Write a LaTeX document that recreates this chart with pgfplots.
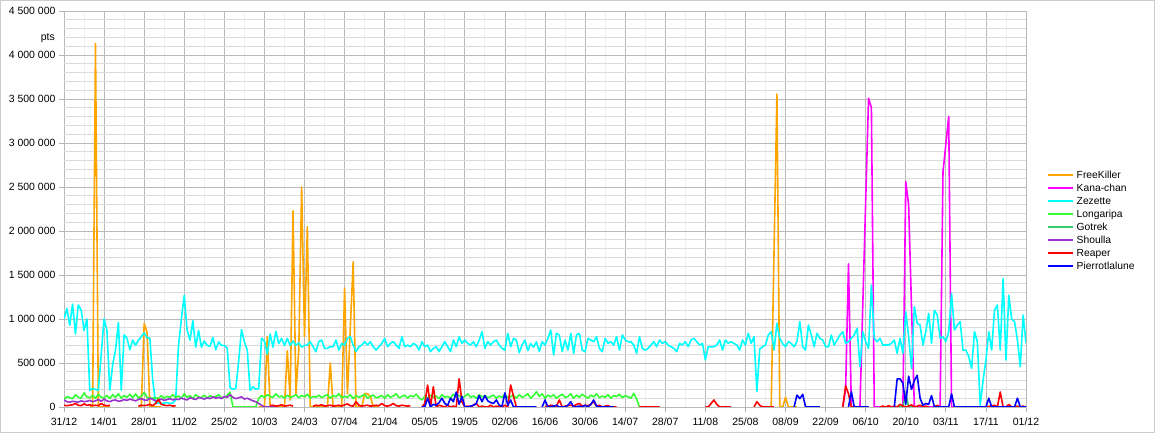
\documentclass[border=0pt]{standalone}
\usepackage{fontspec}
\setmainfont{Liberation Sans}
\usepackage{pgfplots}
\pgfplotsset{compat=1.18}
\definecolor{cFK}{HTML}{FFA500}
\definecolor{cKC}{HTML}{FF00FF}
\definecolor{cZZ}{HTML}{00FFFF}
\definecolor{cLG}{HTML}{33FF33}
\definecolor{cGT}{HTML}{33CC66}
\definecolor{cSH}{HTML}{9933CC}
\definecolor{cRP}{HTML}{FF0000}
\definecolor{cPL}{HTML}{0000FF}
\begin{document}
\begin{tikzpicture}[x=1pt,y=1pt]
\useasboundingbox (0,0) rectangle (1155,433);
\draw[gray!40, line width=1pt] (0.5,0.5) rectangle (1154.5,432.5);
\begin{axis}[
  at={(64pt,26pt)}, anchor=south west,
  scale only axis, width=962pt, height=396pt,
  xmin=0, xmax=336, ymin=0, ymax=4500,
  xtick={0,14,...,336},
  xticklabels={31/12,14/01,28/01,11/02,25/02,10/03,24/03,07/04,21/04,05/05,19/05,02/06,16/06,30/06,14/07,28/07,11/08,25/08,08/09,22/09,06/10,20/10,03/11,17/11,01/12},
  minor x tick num=1,
  ytick={0,500,...,4500},
  yticklabels={0,500 000,1 000 000,1 500 000,2 000 000,2 500 000,3 000 000,3 500 000,4 000 000,4 500 000},
  minor y tick num=4,
  grid=both,
  major grid style={gray!55, line width=0.8pt},
  minor grid style={gray!28, line width=0.8pt},
  every minor x grid/.style={gray!12, line width=0.8pt},
  axis line style={draw=none},
  tick align=outside, xtick pos=left, ytick pos=left,
  major tick length=5pt, minor tick length=0pt,
  tick style={gray!60, line width=0.8pt},
  tick label style={font=\fontsize{10.5}{12}\selectfont, text=black},
  xticklabel style={yshift=-2pt},
  unbounded coords=jump,
  every axis plot/.append style={line width=1.6pt, line join=round, mark=none},
  legend style={at={(1,0.602)}, anchor=north west, xshift=21.5pt, draw=none, fill=none,
    inner sep=0pt, row sep=0pt, column sep=2pt,
    font=\fontsize{10.3}{12}\selectfont,
    cells={anchor=west, inner sep=1.5pt, text height=7.5pt, text depth=2.5pt}},
  legend cell align=left,
  legend image code/.code={\fill[#1, draw=none] (0pt,-1pt) rectangle (25pt,1pt);},
]
% FreeKiller
\addplot[color=cFK] coordinates {
(9,0)(10,0)(11,4130)(12,0)(13,0)(14,0)(15,0)(16,0)(17,nan)
(26,0)(27,0)(28,950)(29,850)(30,0)(31,0)(32,0)(33,0)(34,0)(35,nan)
(68,0)(69,0)(70,0)(71,800)(72,0)(73,0)(74,0)(75,0)(76,0)(77,0)(78,640)(79,80)(80,2230)(81,150)(82,650)(83,2500)(84,800)(85,2050)(86,0)(87,0)(88,0)(89,0)(90,0)(91,0)(92,0)(93,500)(94,0)(95,0)(96,0)(97,0)(98,1350)(99,150)(101,1650)(102,0)(103,0)(104,0)(105,150)(106,150)(107,120)(108,0)(109,0)(110,0)(111,nan)
(247,0)(249,3557)(250,0)(251,0)(252,110)(253,0)(254,0)(255,0)(256,0)
};
\addlegendentry{FreeKiller}
% Kana-chan
\addplot[color=cKC] coordinates {
(272,0)(273,200)(274,1625)(275,0)(278,0)(281,3510)(282,3400)(283,0)(293,0)(294,2560)(295,2300)(297,0)(306,0)(307,2670)(309,3300)(310,0)(322,0)
};
\addlegendentry{Kana-chan}
% Zezette
\addplot[color=cZZ] coordinates {
(0,1000)(1,1120)(2,930)(3,1170)(4,830)(5,1160)(6,1100)(7,870)(8,1000)(9,190)
(10,210)(11,200)(12,190)(13,600)(14,1000)(15,870)(16,190)(17,480)(18,650)(19,960)
(20,190)(21,820)(22,780)(23,650)(24,760)(25,700)(26,760)(27,800)(28,840)(29,790)
(30,780)(31,300)(32,45)(33,45)(34,40)(35,45)(36,50)(37,40)(38,45)(39,80)
(40,700)(41,1000)(42,1270)(43,870)(44,760)(45,980)(46,680)(47,870)(48,680)(49,750)
(50,700)(51,690)(52,790)(53,650)(54,740)(55,700)(56,700)(57,670)(58,220)(59,200)
(60,210)(61,520)(62,880)(63,740)(64,650)(65,190)(66,230)(67,200)(68,210)(69,780)
(70,750)(71,600)(72,830)(73,680)(74,860)(75,720)(76,780)(77,700)(78,780)(79,700)
(80,750)(81,700)(82,730)(83,680)(84,700)
(85,704)(86,742)(87,685)(88,629)(89,742)(90,761)(91,666)(92,666)(93,685)(94,685)
(95,761)(96,647)(97,723)(98,704)(99,780)(100,799)(101,704)(102,629)(103,685)(104,704)
(105,742)(106,704)(107,742)(108,685)(109,647)(110,685)(111,723)(112,780)(113,685)(114,723)
(115,742)(116,704)(117,666)(118,799)(119,685)(120,704)(121,685)(122,723)(123,704)(124,647)
(125,742)(126,685)(127,704)(128,629)(129,666)(130,685)(131,629)(132,685)(133,742)(134,685)
(135,629)(136,761)(137,685)(138,799)(139,723)(140,761)(141,723)(142,704)(143,742)(144,685)
(145,761)(146,856)(147,666)(148,742)(149,704)(150,742)(151,761)(152,704)(153,666)(154,647)
(155,837)(156,685)(157,780)(158,760)(159,617)(160,704)(161,760)(162,640)(163,720)(164,680)
(165,740)(166,629)(167,742)(168,704)(169,780)(170,875)(171,591)(172,837)(173,818)(174,629)
(175,761)(176,647)(177,837)(178,610)(179,818)(180,837)(181,647)(182,629)(183,780)(184,761)
(185,742)(186,799)(187,666)(188,629)(189,780)(190,723)(191,742)(192,704)(193,799)(194,647)
(195,818)(196,761)(197,742)(198,742)(199,704)(200,610)(201,799)(202,666)(203,647)(204,666)
(205,704)(206,742)(207,685)(208,761)(209,723)(210,742)(211,704)(212,685)(213,666)(214,629)
(215,723)(216,704)(217,742)(218,685)(219,761)(220,780)(221,742)(222,704)(223,723)(224,534)
(225,685)(226,685)(227,685)(228,704)(229,761)(230,647)(231,761)(232,723)(233,742)(234,723)
(235,704)(236,647)(237,761)(238,704)(239,837)(240,723)(241,799)(242,174)(243,660)(244,685)
(245,704)(246,818)(247,856)(248,647)(249,951)(250,780)
(251,720)(252,685)(253,742)(254,723)(255,685)(256,742)(257,970)(258,685)(259,647)(260,932)
(261,818)(262,685)(263,837)(264,780)(265,761)(266,685)(267,685)(268,818)(269,704)(270,761)
(271,818)(272,856)(273,723)(274,742)(275,780)(276,818)(277,894)(278,458)(279,856)(280,742)
(281,666)(282,1386)(283,780)(284,742)(285,780)(286,704)(287,704)(288,704)(289,723)(290,761)
(291,609)(292,780)(293,609)(294,1083)(295,799)(296,439)(297,1140)(298,951)(299,932)(300,704)
(301,856)(302,1064)(303,723)(304,1100)(305,1045)(306,780)(307,799)(308,742)(309,856)(310,1290)
(311,875)(312,932)(313,970)(314,647)(315,647)(316,572)(317,439)(318,856)(319,742)(320,20)
(321,300)(322,534)(323,856)(324,647)(325,1100)(326,1160)(327,647)(328,1460)(329,534)(330,1270)
(331,1000)(332,970)(333,761)(334,458)(335,1045)(336,723)
};
\addlegendentry{Zezette}
% Longaripa
\addplot[color=cLG] coordinates {
(0,80)(1,120)(2,105)(3,95)(4,140)(5,110)(6,100)(7,160)(8,115)(9,105)
(10,130)(11,100)(12,145)(13,110)(14,105)(15,130)(16,95)(17,140)(18,110)(19,150)
(20,100)(21,130)(22,110)(23,145)(24,105)(25,150)(26,100)(27,125)(28,165)(29,110)
(30,100)(31,100)(32,105)(33,95)(34,130)(35,100)(36,120)(37,110)(38,140)(39,105)
(40,125)(41,100)(42,150)(43,110)(44,130)(45,95)(46,140)(47,115)(48,105)(49,135)
(50,100)(51,130)(52,110)(53,120)(54,140)(55,105)(56,110)(57,130)(58,170)(59,0)
(67,0)(68,100)(69,130)
(70,110)(71,140)(72,120)(73,110)(74,150)(75,115)(76,125)(77,100)(78,135)(79,110)
(80,120)(81,140)(82,105)(83,130)(84,115)(85,145)(86,100)(87,120)(88,110)(89,135)
(90,105)(91,125)(92,140)(93,100)(94,130)(95,115)(96,150)(97,105)(98,120)(99,110)
(100,140)(101,95)(102,130)(103,110)(104,125)(105,145)(106,100)(107,120)(108,135)(109,105)
(110,115)(111,130)(112,100)(113,140)(114,110)(115,125)(116,150)(117,105)(118,120)(119,135)
(120,100)(121,130)(122,115)(123,145)(124,105)(125,80)(126,120)(127,100)(128,135)(129,110)
(130,125)(131,95)(132,140)(133,110)(134,120)(135,100)(136,145)(137,115)(138,130)(139,105)
(140,120)(141,150)(142,110)(143,125)(144,100)(145,140)(146,115)(147,130)(148,105)(149,120)
(150,135)(151,100)(152,125)(153,110)(154,145)(155,105)(156,120)(157,130)(158,100)(159,140)
(160,110)(161,125)(162,150)(163,100)(164,130)(165,175)(166,120)(167,150)(168,100)(169,135)
(170,115)(171,140)(172,100)(173,125)(174,145)(175,110)(176,120)(177,150)(178,100)(179,135)
(180,110)(181,145)(182,120)(183,100)(184,135)(185,115)(186,150)(187,105)(188,125)(189,110)
(190,140)(191,100)(192,130)(193,120)(194,145)(195,105)(196,130)(197,115)(198,100)(199,155)
(200,90)(201,0)(208,0)
};
\addlegendentry{Longaripa}
% Gotrek
\addplot[color=cGT] coordinates {
(290,0)(293,0)(294,150)(295,0)(298,0)
};
\addlegendentry{Gotrek}
% Shoulla
\addplot[color=cSH] coordinates {
(0,80)(1,60)(2,55)(3,65)(4,60)(5,55)(6,70)(7,60)(8,65)(9,75)(10,60)(11,70)(12,85)(13,65)(14,90)(15,70)(16,60)(17,75)(18,80)(19,65)(20,70)(21,85)(22,75)(23,90)(24,80)(25,70)(26,85)(27,95)(28,80)(29,75)(30,100)(31,85)(32,70)(33,80)(34,90)(35,75)(36,85)(37,95)(38,80)(39,90)(40,85)(41,100)(42,90)(43,80)(44,105)(45,95)(46,85)(47,110)(48,100)(49,90)(50,105)(51,95)(52,115)(53,100)(54,110)(55,95)(56,120)(57,110)(58,140)(59,110)(60,95)(61,105)(62,115)(63,90)(64,100)(65,85)(66,70)(67,60)(68,40)(69,20)(70,0)(74,0)
};
\addlegendentry{Shoulla}
% Reaper
\addplot[color=cRP] coordinates {
(0,20)(1,15)(2,20)(3,25)(4,40)(5,20)(6,15)(7,35)(8,20)(9,25)(10,15)(11,20)(12,15)(13,40)(14,20)(15,15)(16,20)(17,nan)
(26,10)(27,20)(28,15)(29,20)(30,30)(31,15)(32,40)(33,85)(34,30)(35,20)(36,15)(37,20)(38,10)(39,15)(40,nan)
(72,15)(73,20)(74,10)(75,15)(76,25)(77,10)(78,15)(79,20)(80,10)(81,nan)
(87,10)(88,20)(89,15)(90,25)(91,10)(92,15)(93,20)(94,10)(95,15)(96,20)(97,10)(98,25)(99,35)(100,15)(101,10)(102,60)(103,20)(104,10)(105,15)(106,20)(107,10)(108,15)(109,20)(110,15)(111,40)(112,15)(113,10)(114,20)(115,40)(116,15)(117,10)(118,20)(119,15)(120,10)(121,15)(122,nan)
(125,0)(126,40)(127,250)(128,0)(129,230)(130,0)(131,20)(132,10)(133,0)(134,20)(135,0)(136,10)(137,0)(138,320)(139,60)(140,0)(141,10)(142,0)(143,20)(144,40)(145,0)(146,10)(147,0)(148,0)(149,20)(150,0)(151,10)(152,0)(153,0)(154,20)(155,0)(156,250)(157,120)(158,0)(165,0)(166,nan)
(168,0)(169,10)(170,20)(171,15)(172,10)(173,80)(174,0)(175,10)(176,15)(177,20)(178,10)(179,30)(180,40)(181,10)(182,20)(183,15)(184,30)(185,60)(186,10)(187,20)(188,0)(189,10)(190,15)(191,0)(193,0)(194,nan)
(201,0)(208,0)(209,nan)
(224,0)(225,0)(226,40)(227,80)(228,30)(229,0)(233,0)(234,nan)
(241,0)(242,60)(243,20)(244,0)(248,0)(249,nan)
(272,0)(273,240)(274,150)(275,0)(281,0)(282,nan)
(285,0)(286,10)(287,0)(288,15)(289,0)(290,10)(291,0)(292,30)(293,10)(294,0)(295,10)(296,25)(297,0)(298,10)(299,20)(300,0)(301,10)(302,0)(303,nan)
(304,0)(305,20)(306,0)(307,nan)
(322,0)(325,20)(326,0)(327,170)(328,0)(329,0)(330,30)(331,0)(332,0)(333,10)(334,0)(335,10)(336,0)
};
\addlegendentry{Reaper}
% Pierrotlalune
\addplot[color=cPL] coordinates {
(125,0)(126,0)(127,100)(128,0)(129,30)(130,20)(131,50)(132,100)(133,40)(134,20)(135,100)(136,60)(137,170)(138,30)(139,120)(140,0)(141,0)(142,10)(143,20)(144,40)(145,130)(146,60)(147,130)(148,70)(149,50)(150,40)(151,80)(152,20)(153,10)(154,160)(155,20)(156,80)(157,0)(165,0)(166,nan)
(167,0)(168,80)(169,0)(171,10)(172,20)(173,0)(175,0)(176,20)(177,60)(178,0)(180,10)(181,0)(182,20)(183,0)(184,30)(185,80)(186,10)(187,0)(192,0)(193,nan)
(255,0)(256,136)(257,95)(258,144)(259,0)(264,0)(265,nan)
(274,0)(275,175)(276,0)(281,0)(282,nan)
(290,0)(291,320)(292,320)(293,270)(294,30)(295,350)(296,200)(297,300)(298,360)(299,100)(300,20)(301,40)(302,30)(303,130)(304,0)(309,0)(310,150)(311,0)(322,0)(323,100)(324,0)(332,0)(333,100)(334,0)(336,0)
};
\addlegendentry{Pierrotlalune}
\end{axis}
\node[anchor=east, font=\fontsize{10.5}{12}\selectfont, inner sep=0pt] at (55,395) {pts};
\end{tikzpicture}
\end{document}
